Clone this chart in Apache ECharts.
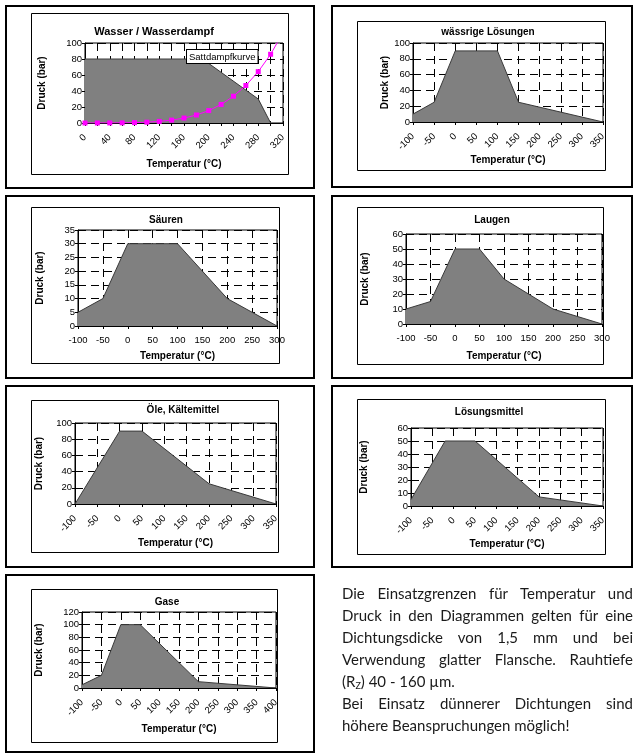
<!DOCTYPE html>
<html><head><meta charset="utf-8">
<script src="https://cdn.jsdelivr.net/npm/echarts@6/dist/echarts.min.js"></script>
<style>
html,body{margin:0;padding:0;background:#fff;}
#c{position:absolute;left:0;top:0;width:634px;height:753px;}
#txt{position:absolute;left:342px;top:582px;width:291px;font-family:Lato,'Open Sans',sans-serif;font-size:15px;line-height:22px;color:#1a1a1a;}
#txt div{text-align:justify;text-align-last:justify;}
#txt div.l{text-align:left;text-align-last:left;}
#txt sub{font-size:9px;vertical-align:-2px;line-height:0;}
</style></head>
<body>
<div id="c"></div>
<div id="txt">
<div>Die Einsatzgrenzen für Temperatur und</div>
<div>Druck in den Diagrammen gelten für eine</div>
<div>Dichtungsdicke von 1,5 mm und bei</div>
<div>Verwendung glatter Flansche. Rauhtiefe</div>
<div class="l">(R<sub>Z</sub>) 40 - 160 µm.</div>
<div>Bei Einsatz dünnerer Dichtungen sind</div>
<div class="l">höhere Beanspruchungen möglich!</div>
</div>
<script>
// ---- data ----
const titles = ['Wasser / Wasserdampf','wässrige Lösungen','Säuren','Laugen','Öle, Kältemittel','Lösungsmittel','Gase'];
const xTitle = 'Temperatur (°C)';
const yTitle = 'Druck (bar)';
const satLabel = 'Sattdampfkurve';

const wasserT = [0,190,280,300];
const wasserP = [80,80,30,0];
const sattT = [0,20,40,60,80,100,120,140,160,180,200,220,240,260,280,300,320];
const sattP = [0.006,0.023,0.074,0.199,0.474,1.01,1.99,3.61,6.18,10.0,15.5,23.2,33.5,46.9,64.2,85.9,112.9];

const waessrigT = [-100,-50,0,100,150,350];
const waessrigP = [10,25,90,90,25,0];

const saeurenT = [-100,-50,0,100,200,300];
const saeurenP = [5,10,30,30,10,0];

const laugenT = [-100,-50,0,50,100,200,300];
const laugenP = [10,15,50,50,30,10,0];

const oeleT = [-100,0,50,200,350];
const oeleP = [0,90,90,25,0];

const loesT = [-100,-20,50,200,350];
const loesP = [5,50,50,7,0];

const gaseT = [-100,-50,0,50,200,400];
const gaseP = [5,20,100,100,10,0];

// axis ranges [min,max,interval]
const xRanges = [[0,320,20],[-100,350,50],[-100,300,50],[-100,300,50],[-100,350,50],[-100,350,50],[-100,400,50]];
const yRanges = [[0,100,20],[0,100,20],[0,35,5],[0,60,10],[0,100,20],[0,60,10],[0,120,20]];
const areaData = [[wasserT,wasserP],[waessrigT,waessrigP],[saeurenT,saeurenP],[laugenT,laugenP],[oeleT,oeleP],[loesT,loesP],[gaseT,gaseP]];

// ---- layout ----
const FONT = "'Liberation Sans', Arial, sans-serif";
const layout = [
 {grid:[85,43,198,80], outer:[6,6,308,182], inner:[31,13,257,161], title:[154,32,11], rot:45, xGap:36, yGap:38, every:40},
 {grid:[413,43,190,79], outer:[332,6,300,181], inner:[357,21,248,149], title:[488,32,10], rot:45, xGap:28, yGap:19},
 {grid:[78,230,199,96], outer:[6,196,308,182], inner:[31,207,248,156], title:[166,220,10], rot:0, xGap:25, yGap:33},
 {grid:[406,234,196,90], outer:[332,196,300,182], inner:[357,207,246,157], title:[492,220,10], rot:0, xGap:27, yGap:36},
 {grid:[75,423,201,81], outer:[6,386,308,181], inner:[31,400,247,152], title:[183,410,10], rot:45, xGap:34, yGap:31},
 {grid:[411,428,192,78], outer:[332,386,300,181], inner:[357,399,248,155], title:[489,412,10], rot:45, xGap:32, yGap:42},
 {grid:[82,612,194,76], outer:[6,575,308,177], inner:[31,589,246,153], title:[167,602,10], rot:45, xGap:36, yGap:38}
];

const grids=[], xAxes=[], yAxes=[], series=[], graphics=[];
layout.forEach((L,i)=>{
  grids.push({left:L.grid[0],top:L.grid[1],width:L.grid[2],height:L.grid[3],show:true,borderColor:'#000',borderWidth:1,backgroundColor:'#fff',containLabel:false,outerBoundsMode:'none'});
  const xr=xRanges[i], yr=yRanges[i];
  xAxes.push({type:'value',gridIndex:i,min:xr[0],max:xr[1],interval:xr[2],
    name:xTitle,nameLocation:'middle',nameGap:L.xGap,
    nameTextStyle:{fontFamily:FONT,fontWeight:'bold',fontSize:10,color:'#000'},
    axisLine:{show:true,onZero:false,lineStyle:{color:'#000',width:1}},
    axisTick:{show:true,length:3,lineStyle:{color:'#000'}},
    axisLabel:{rotate:L.rot,margin:L.rot?13:9,fontFamily:FONT,fontSize:9.5,color:'#000',hideOverlap:false,
      formatter: L.every ? (v=> (v%L.every===0? String(v):'')) : (v=>String(v))},
    splitLine:{show:true,lineStyle:{color:'#000',width:1,type:[8,5]}}
  });
  yAxes.push({type:'value',gridIndex:i,min:yr[0],max:yr[1],interval:yr[2],
    name:yTitle,nameLocation:'middle',nameGap:L.yGap,nameRotate:90,
    nameTextStyle:{fontFamily:FONT,fontWeight:'bold',fontSize:10,color:'#000'},
    axisLine:{show:true,onZero:false,lineStyle:{color:'#000',width:1}},
    axisTick:{show:true,length:3,lineStyle:{color:'#000'}},
    axisLabel:{margin:3,fontFamily:FONT,fontSize:9.5,color:'#000',hideOverlap:false},
    splitLine:{show:true,lineStyle:{color:'#000',width:1,type:[8,5]}}
  });
  const [T,P]=areaData[i];
  series.push({type:'line',xAxisIndex:i,yAxisIndex:i,data:T.map((t,k)=>[t,P[k]]),symbol:'none',
    lineStyle:{color:'#3a3a3a',width:1},areaStyle:{color:'#808080',opacity:1,origin:'start'},z:2,silent:true,animation:false});
  graphics.push({type:'rect',shape:{x:L.outer[0],y:L.outer[1],width:L.outer[2],height:L.outer[3]},style:{fill:'none',stroke:'#000',lineWidth:2},z:100});
  graphics.push({type:'rect',shape:{x:L.inner[0]+0.5,y:L.inner[1]+0.5,width:L.inner[2],height:L.inner[3]},style:{fill:'none',stroke:'#000',lineWidth:1},z:100});
  graphics.push({type:'text',x:L.title[0],y:L.title[1],style:{text:titles[i],fill:'#000',font:'bold '+L.title[2]+'px '+FONT,textAlign:'center',textVerticalAlign:'middle'},z:100});
});
series.push({type:'line',xAxisIndex:0,yAxisIndex:0,data:sattT.map((t,k)=>[t,sattP[k]]),symbol:'rect',symbolSize:5,
  itemStyle:{color:'#ff00ff'},lineStyle:{color:'#ff00ff',width:1},clip:true,z:5,silent:true,animation:false});
graphics.push({type:'text',x:187,y:50,style:{text:satLabel,fill:'#000',font:'9.5px '+FONT,backgroundColor:'#fff',borderColor:'#000',borderWidth:1,padding:[2,2,1,2]},z:100});

const chart=echarts.init(document.getElementById('c'),null,{renderer:'canvas'});
chart.setOption({animation:false,grid:grids,xAxis:xAxes,yAxis:yAxes,series:series,graphic:graphics});
</script>
</body></html>
